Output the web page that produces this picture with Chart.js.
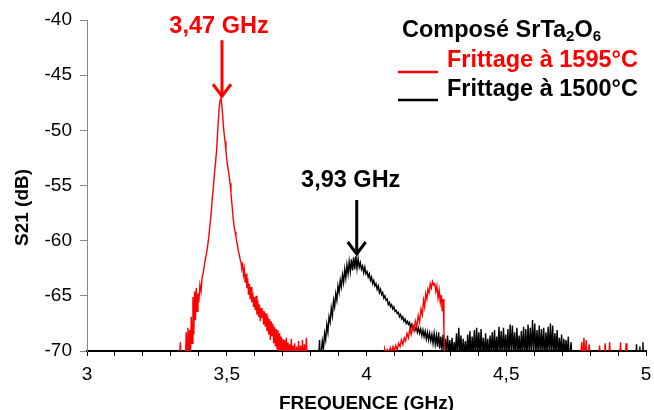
<!DOCTYPE html>
<html>
<head>
<meta charset="utf-8">
<script src="https://cdn.jsdelivr.net/npm/chart.js@4/dist/chart.umd.min.js"></script>
<style>
html,body{margin:0;padding:0;background:#fff;}
canvas{display:block;}
</style>
</head>
<body>
<canvas id="c" width="654" height="410"></canvas>
<script>
// ---------- DATA ----------
const xTitle = 'FREQUENCE (GHz)';
const yTitle = 'S21 (dB)';
const seriesLabels = ['Frittage à 1595°C', 'Frittage à 1500°C'];
const legendTitleParts = [['Composé SrTa', false], ['2', true], ['O', false], ['6', true]];
const peakLabels = ['3,47 GHz', '3,93 GHz'];
const peakFreq = [3.483, 3.965];
const peakLevel = [-47.0, -61.3];

const freqRed = [
3.000,3.330,3.334,3.337,3.352,3.355,3.358,3.361,3.364,3.367,3.370,3.373,3.376,3.379,3.382,3.385,3.388,3.391,3.394,3.397,
3.400,3.404,3.408,3.412,3.416,3.420,3.424,3.428,3.432,3.436,3.440,3.444,3.448,3.452,3.456,3.460,3.464,3.467,3.470,3.473,
3.476,3.479,3.482,3.485,3.488,3.491,3.494,3.497,3.500,3.503,3.506,3.509,3.512,3.515,3.518,3.521,3.524,3.527,3.530,3.533,
3.536,3.539,3.542,3.545,3.548,3.551,3.554,3.557,3.560,3.563,3.566,3.569,3.572,3.575,3.578,3.581,3.584,3.587,3.590,3.593,
3.596,3.599,3.602,3.605,3.608,3.611,3.614,3.617,3.620,3.623,3.626,3.629,3.632,3.635,3.638,3.641,3.644,3.647,3.650,3.653,
3.656,3.659,3.662,3.665,3.668,3.671,3.674,3.677,3.680,3.683,3.686,3.689,3.692,3.695,3.698,3.701,3.704,3.707,3.710,3.713,
3.716,3.719,3.722,3.725,3.728,3.731,3.734,3.737,3.740,3.743,3.746,3.750,3.753,3.757,3.760,3.764,3.767,3.771,3.774,3.778,
3.781,3.785,3.788,
4.060,4.065,4.070,4.075,4.080,4.085,4.090,4.095,4.100,4.105,4.110,4.115,4.120,4.125,4.130,4.135,4.140,4.145,4.150,4.155,
4.160,4.165,4.170,4.175,4.180,4.185,4.190,4.195,4.200,4.204,4.208,4.212,4.216,4.220,4.224,4.228,4.232,4.236,4.240,4.244,
4.248,4.252,4.256,4.260,4.264,4.268,4.271,4.274,4.277,4.280,
4.765,4.770,4.773,4.778,4.781,4.786,4.789,4.797,4.800,4.830,4.834,4.837,4.850,4.854,4.857,4.866,4.870,4.873,
4.905,4.909,4.912,4.925,4.929,4.932,5.000
];
const s21Red = [
-71,-71,-69.2,-71,-71,-68.3,-70.6,-67.9,-70.4,-68.1,-70.8,-66.9,-69.3,-65.1,-68.5,-64.6,-67.2,-64.3,-66.4,-64.8,
-65.6,-64.0,-64.6,-63.3,-62.9,-62.2,-61.6,-61.1,-60.4,-59.6,-58.6,-57.6,-56.3,-55.2,-53.9,-52.9,-51.7,-50.3,-49.1,-48.0,
-47.3,-47.0,-47.6,-48.5,-49.6,-50.4,-51.0,-51.8,-52.6,-53.2,-53.7,-54.2,-54.8,-55.6,-56.5,-57.4,-58.2,-58.8,-59.2,-59.6,
-60.1,-60.5,-61.0,-61.3,-61.7,-62.0,-62.5,-62.2,-63.1,-62.6,-63.8,-63.0,-64.3,-63.4,-64.9,-63.9,-65.3,-64.2,-65.6,-64.7,
-66.0,-65.1,-66.3,-65.0,-66.7,-65.4,-66.9,-65.8,-67.3,-66.1,-67.0,-66.3,-67.6,-66.4,-67.8,-66.6,-68.2,-66.9,-68.5,-67.1,
-69.0,-67.3,-68.6,-67.5,-69.3,-67.8,-69.6,-68.0,-69.8,-68.1,-70.3,-68.4,-70.0,-68.7,-70.5,-68.9,-70.2,-69.0,-70.7,-68.8,
-70.4,-69.2,-70.8,-69.4,-70.5,-68.9,-70.9,-69.5,-70.6,-69.3,-71,-69.6,-71,-69.1,-71,-69.5,-71,-69.0,-71,-69.4,
-71,-68.8,-71,
-71,-69.8,-70.4,-69.9,-70.2,-69.7,-70.1,-69.6,-70.0,-69.5,-69.9,-69.3,-69.6,-69.0,-69.4,-68.8,-69.1,-68.4,-68.8,-68.0,
-68.5,-67.7,-68.2,-67.3,-67.8,-66.8,-67.4,-66.2,-66.7,-65.4,-66.0,-64.8,-65.3,-64.4,-64.7,-63.9,-64.3,-63.7,-64.0,-63.9,
-64.6,-64.1,-65.2,-64.5,-65.6,-64.9,-66.4,-65.3,-68.0,-71,
-71,-69.2,-71,-68.8,-71,-69.0,-71,-69.4,-71,-71,-69.5,-71,-71,-69.3,-71,-71,-69.2,-71,
-71,-69.2,-71,-71,-69.3,-71,-71
];

const freqBlack = [
3.000,3.828,3.832,3.835,3.838,3.842,3.846,3.850,3.854,3.858,3.862,3.866,3.870,3.874,3.878,3.882,3.886,3.890,3.894,3.898,
3.902,3.906,3.910,3.914,3.918,3.922,3.926,3.930,3.934,3.938,3.942,3.946,3.950,3.954,3.958,3.962,3.966,3.970,3.974,3.978,
3.982,3.986,3.990,3.994,3.998,4.002,4.006,4.010,4.014,4.018,4.022,4.026,4.030,4.034,4.038,4.042,4.046,4.050,4.054,4.058,
4.062,4.066,4.070,4.074,4.078,4.082,4.086,4.090,4.094,4.098,4.102,4.106,4.110,4.114,4.118,4.122,4.126,4.130,4.134,4.138,
4.142,4.146,4.150,4.154,4.158,4.162,4.166,4.170,4.174,4.178,4.182,4.186,4.190,4.194,4.198,4.202,4.206,4.210,4.214,4.218,
4.222,4.226,4.230,4.234,4.238,4.242,4.246,4.250,4.254,4.258,4.262,4.266,4.270,4.274,4.278,4.282,4.286,4.290,4.294,4.298,
4.302,4.306,4.310,4.314,4.318,4.322,4.326,4.330,4.334,4.338,4.342,4.346,4.350,4.354,4.358,4.362,4.366,4.370,4.374,4.378,
4.382,4.386,4.390,4.394,4.398,4.402,4.406,4.410,4.414,4.418,4.422,4.426,4.430,4.434,4.438,4.442,4.446,4.450,4.454,4.458,
4.462,4.466,4.470,4.474,4.478,4.482,4.486,4.490,4.494,4.498,4.502,4.506,4.510,4.514,4.518,4.522,4.526,4.530,4.534,4.538,
4.542,4.546,4.550,4.554,4.558,4.562,4.566,4.570,4.574,4.578,4.582,4.586,4.590,4.594,4.598,4.602,4.606,4.610,4.614,4.618,
4.622,4.626,4.630,4.634,4.638,4.642,4.646,4.650,4.654,4.658,4.662,4.666,4.670,4.674,4.678,4.682,4.686,4.690,4.694,4.698,
4.702,4.706,4.710,4.714,4.718,4.722,4.726,4.732,4.736,
4.963,4.966,4.969,4.975,4.978,4.981,4.986,4.989,4.992,5.000
];
const s21Black = [
-71,-71,-69.0,-71,-70.2,-69.1,-69.8,-68.4,-69.0,-67.6,-68.3,-66.9,-67.4,-66.1,-66.8,-65.4,-66.0,-64.8,-65.4,-64.1,
-64.7,-63.6,-64.2,-63.1,-63.8,-62.6,-63.4,-62.2,-63.0,-61.9,-62.8,-61.7,-62.7,-61.5,-62.6,-61.4,-62.5,-61.6,-62.4,-62.0,
-62.6,-62.3,-62.9,-62.4,-63.0,-62.8,-63.3,-63.0,-63.6,-63.3,-63.9,-63.6,-64.1,-63.9,-64.4,-64.1,-64.7,-64.4,-64.9,-64.7,
-65.2,-65.0,-65.4,-65.3,-65.8,-65.6,-66.0,-65.8,-66.2,-66.0,-66.4,-66.3,-66.6,-66.5,-66.9,-66.7,-67.1,-66.9,-67.3,-67.1,
-67.5,-67.3,-67.6,-67.4,-67.9,-67.6,-68.0,-67.7,-68.1,-67.8,-68.3,-67.9,-68.4,-68.0,-68.6,-68.1,-68.7,-68.2,-68.9,-68.3,
-69.0,-68.4,-69.1,-68.5,-69.3,-68.4,-69.4,-68.6,-69.6,-68.3,-69.8,-68.7,-69.9,-68.5,-70.2,-68.9,-70.1,-68.6,-70.4,-69.0,
-70.3,-68.8,-70.5,-69.2,-70.2,-68.4,-70.6,-67.9,-70.3,-68.6,-70.7,-68.9,-70.4,-69.1,-70.8,-68.5,-70.5,-68.2,-70.6,-68.7,
-70.3,-68.1,-70.7,-67.9,-70.2,-68.3,-70.5,-68.0,-70.4,-68.8,-70.6,-68.4,-70.3,-68.9,-70.7,-68.6,-70.2,-68.3,-70.6,-68.1,
-70.4,-68.7,-70.5,-67.8,-70.3,-68.2,-70.6,-67.9,-70.2,-68.5,-70.4,-68.0,-70.5,-67.6,-70.1,-67.7,-70.4,-68.3,-70.6,-67.9,
-70.2,-68.6,-70.5,-68.2,-70.3,-67.8,-70.4,-68.0,-70.6,-67.6,-70.2,-67.9,-70.3,-67.2,-70.1,-67.5,-70.4,-68.1,-70.2,-67.7,
-70.5,-68.0,-70.3,-67.9,-70.6,-68.3,-70.2,-67.8,-70.4,-67.5,-70.3,-67.7,-70.5,-68.4,-70.2,-68.1,-70.6,-68.8,-70.3,-68.5,
-70.7,-68.9,-70.4,-69.0,-70.6,-68.7,-71,-69.2,-71,
-71,-69.4,-71,-71,-69.6,-71,-71,-69.2,-71,-71
];

const xTickStep = 0.1;
const xLabelEvery = 0.5;
const yTickStep = 5;

// ---------- CHART ----------
const FONT = '"Liberation Sans", Arial, sans-serif';
const toPts = (xs, ys) => xs.map((v, i) => ({x: v, y: ys[i]}));

const overlay = {
  id: 'overlay',
  afterDraw(chart) {
    const {ctx, chartArea, scales: {x, y}} = chart;
    ctx.save();
    // y axis title
    ctx.fillStyle = '#000';
    ctx.font = 'bold 19px ' + FONT;
    ctx.textAlign = 'center';
    ctx.textBaseline = 'middle';
    ctx.save();
    ctx.translate(23, (chartArea.top + chartArea.bottom) / 2 + 22);
    ctx.rotate(-Math.PI / 2);
    ctx.fillText(yTitle, 0, 0);
    ctx.restore();

    // peak annotations
    const colors = ['#ff0000', '#000000'];
    const st = [{tail: 57, text: 70.5, dx: -3}, {tail: 55, text: 74.5, dx: -6}];
    peakLabels.forEach((lab, i) => {
      const px = x.getPixelForValue(peakFreq[i]);
      const py = y.getPixelForValue(peakLevel[i]);
      ctx.strokeStyle = colors[i];
      ctx.fillStyle = colors[i];
      ctx.lineWidth = 3;
      ctx.lineCap = 'butt';
      ctx.beginPath();
      ctx.moveTo(px, py - st[i].tail);
      ctx.lineTo(px, py - 1);
      ctx.stroke();
      ctx.lineJoin = 'miter';
      ctx.beginPath();
      ctx.moveTo(px - 9, py - 13);
      ctx.lineTo(px, py - 1);
      ctx.lineTo(px + 9, py - 13);
      ctx.stroke();
      ctx.font = 'bold 23.5px ' + FONT;
      ctx.textAlign = 'center';
      ctx.textBaseline = 'middle';
      ctx.fillText(lab, px + st[i].dx, py - st[i].text);
    });

    // legend block
    const lx = 402;
    let cx = lx;
    ctx.fillStyle = '#000';
    ctx.textAlign = 'left';
    ctx.textBaseline = 'middle';
    legendTitleParts.forEach(([t, sub]) => {
      if (sub) {
        ctx.font = 'bold 15px ' + FONT;
        ctx.fillText(t, cx, 37);
      } else {
        ctx.font = 'bold 23.5px ' + FONT;
        ctx.fillText(t, cx, 30.5);
      }
      cx += ctx.measureText(t).width;
    });
    const rowY = [61, 89.5];
    const lineY = [72, 100];
    chart.data.datasets.forEach((ds, i) => {
      ctx.strokeStyle = ds.borderColor;
      ctx.lineWidth = 2.5;
      ctx.beginPath();
      ctx.moveTo(398, lineY[i]);
      ctx.lineTo(438, lineY[i]);
      ctx.stroke();
      ctx.fillStyle = ds.borderColor;
      ctx.font = 'bold 23.5px ' + FONT;
      ctx.fillText(ds.label, 447, rowY[i]);
    });
    ctx.restore();
  }
};

new Chart(document.getElementById('c'), {
  type: 'scatter',
  data: {
    datasets: [
      {label: seriesLabels[0], data: toPts(freqRed, s21Red), borderColor: '#ff0000', backgroundColor: '#ff0000',
       showLine: true, pointRadius: 0, borderWidth: 1.4, tension: 0},
      {label: seriesLabels[1], data: toPts(freqBlack, s21Black), borderColor: '#000000', backgroundColor: '#000000',
       showLine: true, pointRadius: 0, borderWidth: 1.4, tension: 0}
    ]
  },
  options: {
    responsive: false,
    animation: false,
    devicePixelRatio: 1,
    layout: {padding: {top: 20, right: 8, left: 0, bottom: 0}},
    plugins: {legend: {display: false}, tooltip: {enabled: false}},
    scales: {
      x: {
        type: 'linear', min: 3, max: 5, z: 1,
        afterFit: s => { s.height = 59; s.paddingLeft = 0; s.paddingRight = 0; },
        ticks: {
          stepSize: xTickStep, autoSkip: false, maxRotation: 0, padding: 7,
          color: '#000', font: {family: FONT, size: 19},
          callback: v => {
            const r = Math.round(v * 10) / 10;
            return Math.abs(r / xLabelEvery - Math.round(r / xLabelEvery)) < 1e-6 ? String(r).replace('.', ',') : '';
          }
        },
        grid: {drawOnChartArea: false, drawTicks: true, tickLength: 5, color: '#000', tickWidth: 1},
        border: {color: '#000', width: 2},
        title: {display: true, text: xTitle, color: '#000', font: {family: FONT, size: 19, weight: 'bold', lineHeight: 0.65}, padding: 0}
      },
      y: {
        min: -70, max: -40,
        afterFit: s => { s.width = 87; s.paddingTop = 0; s.paddingBottom = 0; },
        ticks: {stepSize: yTickStep, color: '#000', padding: 8, font: {family: FONT, size: 19}},
        grid: {drawOnChartArea: false, drawTicks: true, tickLength: 7, color: '#888'},
        border: {color: '#888', width: 1}
      }
    }
  },
  plugins: [overlay]
});
</script>
</body>
</html>
